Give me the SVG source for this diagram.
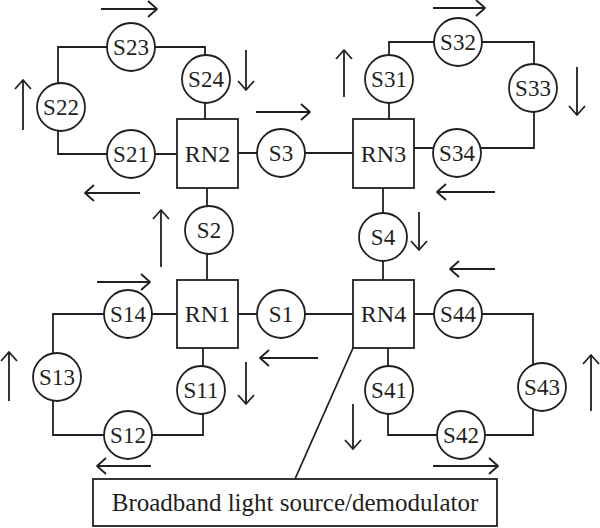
<svg xmlns="http://www.w3.org/2000/svg" width="600" height="528" viewBox="0 0 600 528">
<defs>
<style>
.ln{fill:none;stroke:#231f20;stroke-width:1.8}
.ar{fill:none;stroke:#231f20;stroke-width:1.8;marker-end:url(#ah)}
.nd circle,.nd rect{fill:#fff;stroke:#231f20;stroke-width:1.8}
.nd text{font-family:"Liberation Serif","Times New Roman",serif;font-size:23px;fill:#231f20;text-anchor:middle}
.rn text{font-size:24px}
.bx text{font-size:25px}
</style>
<marker id="ah" markerUnits="userSpaceOnUse" markerWidth="14" markerHeight="20" refX="11" refY="9" orient="auto">
<path d="M2,1 L11,9 L2,17" fill="none" stroke="#231f20" stroke-width="1.8" stroke-linejoin="round"/>
</marker>
</defs>
<rect width="600" height="528" fill="#fff"/>
<g id="connectors">
<polyline class="ln" points="177,154 58,154 58,47 205,47 205,119"/>
<polyline class="ln" points="414,148 534,148 534,42 389,42 389,119"/>
<polyline class="ln" points="177,314 53,314 53,435 203,435 203,348"/>
<polyline class="ln" points="414,314 533,314 533,435 388,435 388,348"/>
<line class="ln" x1="238" y1="153" x2="353" y2="153"/>
<line class="ln" x1="238" y1="314" x2="353" y2="314"/>
<line class="ln" x1="207" y1="188" x2="207" y2="280"/>
<line class="ln" x1="383" y1="188" x2="383" y2="280"/>
<line class="ln" x1="353" y1="348" x2="295" y2="479"/>
</g>
<g id="arrows">
<line class="ar" x1="101" y1="9" x2="157" y2="9"/>
<line class="ar" x1="246" y1="50" x2="246" y2="90"/>
<line class="ar" x1="23" y1="130" x2="23" y2="80"/>
<line class="ar" x1="140" y1="193" x2="85" y2="193"/>
<line class="ar" x1="256" y1="112" x2="310" y2="112"/>
<line class="ar" x1="161" y1="267" x2="161" y2="210"/>
<line class="ar" x1="433" y1="8" x2="485" y2="8"/>
<line class="ar" x1="344" y1="97" x2="344" y2="50"/>
<line class="ar" x1="577" y1="67" x2="577" y2="115"/>
<line class="ar" x1="495" y1="192" x2="437" y2="192"/>
<line class="ar" x1="419" y1="212" x2="419" y2="250"/>
<line class="ar" x1="97" y1="282" x2="150" y2="282"/>
<line class="ar" x1="9" y1="401" x2="9" y2="352"/>
<line class="ar" x1="246" y1="362" x2="246" y2="404"/>
<line class="ar" x1="151" y1="466" x2="97" y2="466"/>
<line class="ar" x1="318" y1="358" x2="260" y2="358"/>
<line class="ar" x1="495" y1="269" x2="450" y2="269"/>
<line class="ar" x1="353" y1="404" x2="353" y2="449"/>
<line class="ar" x1="591" y1="411" x2="591" y2="355"/>
<line class="ar" x1="433" y1="466" x2="498" y2="466"/>
</g>
<g id="RN2" class="nd rn"><rect x="177" y="119" width="61" height="69"/><text x="207.5" y="162">RN2</text></g>
<g id="RN3" class="nd rn"><rect x="353" y="119" width="61" height="69"/><text x="383.5" y="162">RN3</text></g>
<g id="RN1" class="nd rn"><rect x="177" y="280" width="61" height="68"/><text x="207.5" y="322">RN1</text></g>
<g id="RN4" class="nd rn"><rect x="353" y="280" width="61" height="68"/><text x="383.5" y="322">RN4</text></g>
<g id="S23" class="nd"><circle cx="131" cy="47" r="24"/><text x="131" y="55">S23</text></g>
<g id="S24" class="nd"><circle cx="206" cy="79" r="24"/><text x="206" y="87">S24</text></g>
<g id="S22" class="nd"><circle cx="61" cy="107" r="24"/><text x="61" y="115">S22</text></g>
<g id="S21" class="nd"><circle cx="131" cy="154" r="24"/><text x="131" y="162">S21</text></g>
<g id="S3" class="nd"><circle cx="281" cy="153" r="24"/><text x="281" y="161">S3</text></g>
<g id="S2" class="nd"><circle cx="209" cy="230" r="24"/><text x="209" y="238">S2</text></g>
<g id="S32" class="nd"><circle cx="458" cy="42" r="24"/><text x="458" y="50">S32</text></g>
<g id="S31" class="nd"><circle cx="389" cy="79" r="24"/><text x="389" y="87">S31</text></g>
<g id="S33" class="nd"><circle cx="533" cy="88" r="24"/><text x="533" y="96">S33</text></g>
<g id="S34" class="nd"><circle cx="457" cy="153" r="24"/><text x="457" y="161">S34</text></g>
<g id="S4" class="nd"><circle cx="383" cy="237" r="24"/><text x="383" y="245">S4</text></g>
<g id="S14" class="nd"><circle cx="128" cy="314" r="24"/><text x="128" y="322">S14</text></g>
<g id="S1" class="nd"><circle cx="281" cy="314" r="24"/><text x="281" y="322">S1</text></g>
<g id="S13" class="nd"><circle cx="57" cy="377" r="24"/><text x="57" y="385">S13</text></g>
<g id="S11" class="nd"><circle cx="201" cy="390" r="24"/><text x="201" y="398">S11</text></g>
<g id="S12" class="nd"><circle cx="128" cy="435" r="24"/><text x="128" y="443">S12</text></g>
<g id="S44" class="nd"><circle cx="458" cy="314" r="24"/><text x="458" y="322">S44</text></g>
<g id="S41" class="nd"><circle cx="389" cy="390" r="24"/><text x="389" y="398">S41</text></g>
<g id="S43" class="nd"><circle cx="542" cy="387" r="24"/><text x="542" y="395">S43</text></g>
<g id="S42" class="nd"><circle cx="461" cy="435" r="24"/><text x="461" y="443">S42</text></g>
<g id="source" class="nd bx"><rect x="93" y="479" width="404" height="47"/><text x="295" y="511">Broadband light source/demodulator</text></g>
</svg>
